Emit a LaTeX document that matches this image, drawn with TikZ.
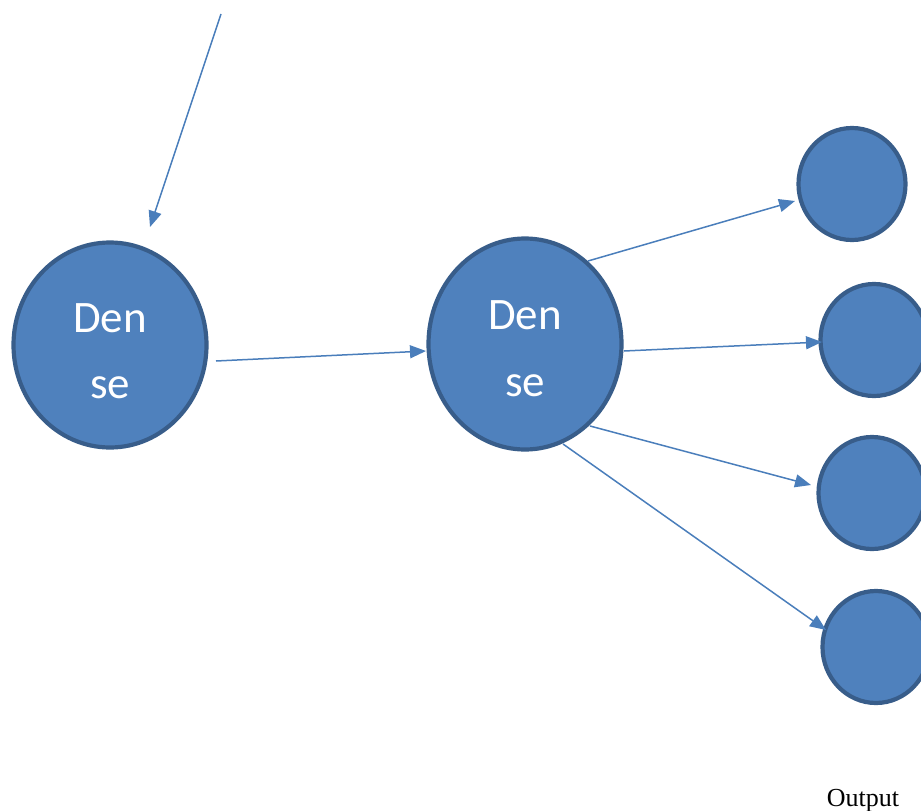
\documentclass[tikz,border=0pt]{standalone}
\usepackage{fontspec}
\setmainfont{Liberation Serif}
\newfontfamily\calib{Carlito}
\usetikzlibrary{arrows.meta,shapes.geometric}
\definecolor{nfill}{HTML}{4F81BD}
\definecolor{nline}{HTML}{385D8A}
\definecolor{aline}{HTML}{4A7EBB}
\tikzset{
  neuron/.style={ellipse, draw=nline, fill=nfill, line width=4.2pt, inner sep=0pt},
  dtext/.style={anchor=base, text=white, font=\calib\fontsize{45}{54}\selectfont, inner sep=0pt},
  conn/.style={draw=aline, line width=1.5pt, -{Triangle[length=16pt,width=13pt]}}
}
\begin{document}
\begin{tikzpicture}[x=1pt,y=-1pt]
\useasboundingbox (0,0) rectangle (921,811);
\clip (0,0) rectangle (921,811);
\node[neuron, minimum width=193pt, minimum height=205pt] (c1) at (110,345) {};
\node[neuron, minimum width=193pt, minimum height=211pt] (c2) at (525,344) {};
\node[neuron, minimum width=107pt, minimum height=112pt] (o1) at (852,184) {};
\node[neuron, minimum width=107pt, minimum height=112pt] (o2) at (874,340) {};
\node[neuron, minimum width=107pt, minimum height=112pt] (o3) at (872,493) {};
\node[neuron, minimum width=107pt, minimum height=112pt] (o4) at (876,647) {};
\node[dtext] (t1a) at (110,332) {Den};
\node[dtext] (t1b) at (110,398) {se};
\node[dtext] (t2a) at (525,329) {Den};
\node[dtext] (t2b) at (525,396) {se};
\node[anchor=base, font=\fontsize{26}{30}\selectfont, inner sep=0pt] (out) at (863,806) {Output};
\coordinate (s0) at (221,14);
\coordinate (e0) at (150,227);
\coordinate (s1) at (216,361);
\coordinate (e1) at (426,351);
\coordinate (s2) at (588,261);
\coordinate (e2) at (795,201);
\coordinate (s3) at (624,351);
\coordinate (e3) at (822,342);
\coordinate (s4) at (590,426);
\coordinate (e4) at (811,485);
\coordinate (s5) at (563,444);
\coordinate (e5) at (826,630);
\draw[conn] (s0) -- (e0);
\draw[conn] (s1) -- (e1);
\draw[conn] (s2) -- (e2);
\draw[conn] (s3) -- (e3);
\draw[conn] (s4) -- (e4);
\draw[conn] (s5) -- (e5);
\end{tikzpicture}
\end{document}
